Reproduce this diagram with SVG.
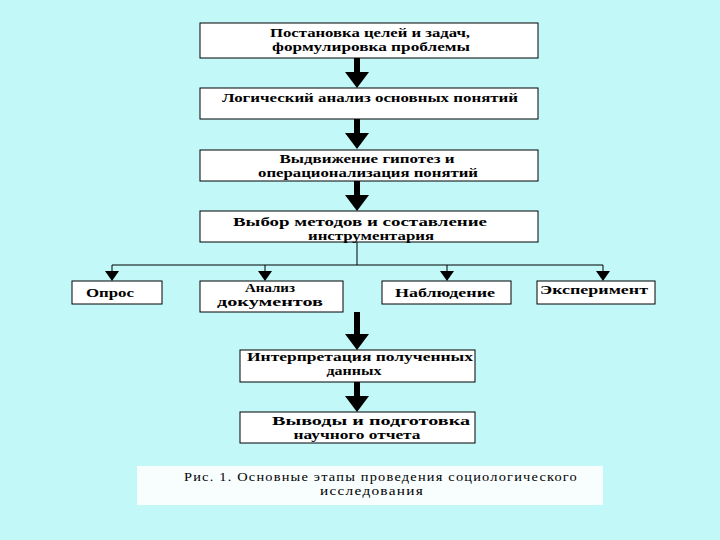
<svg xmlns="http://www.w3.org/2000/svg" width="720" height="540" viewBox="0 0 720 540">
<defs>
<style>
.box{fill:#ffffff;stroke:#000;stroke-width:1}
.t{font-family:"Liberation Serif","Times New Roman",serif;font-weight:bold;font-size:13px;fill:#000;text-anchor:middle}
.c{font-family:"Liberation Serif","Times New Roman",serif;font-size:12px;fill:#000;text-anchor:middle;letter-spacing:1px}
.thin{stroke:#000;stroke-width:1;fill:none}
.head{fill:#000}
</style>
<path id="big" d="M-3,0 L3,0 L3,14 L12,14 L0,30 L-12,14 L-3,14 Z" fill="#000"/>
<path id="sm" d="M-7,-10 L7,-10 L0,0 Z" fill="#000"/>
</defs>
<rect width="720" height="540" fill="#c2f8f8"/>
<g id="connectors">
<use href="#big" x="357" y="58"/>
<use href="#big" x="357" y="119"/>
<use href="#big" x="357" y="181"/>
<line class="thin" x1="357" y1="242" x2="357" y2="265"/>
<line class="thin" x1="112" y1="265" x2="603" y2="265"/>
<line class="thin" x1="112" y1="265" x2="112" y2="272"/>
<line class="thin" x1="265" y1="265" x2="265" y2="272"/>
<line class="thin" x1="447" y1="265" x2="447" y2="272"/>
<line class="thin" x1="603" y1="265" x2="603" y2="272"/>
<use href="#sm" x="112" y="281"/>
<use href="#sm" x="265" y="281"/>
<use href="#sm" x="447" y="281"/>
<use href="#sm" x="603" y="281"/>
<path d="M-3,0 L3,0 L3,22 L12,22 L0,38 L-12,22 L-3,22 Z" fill="#000" transform="translate(357,312)"/>
<use href="#big" x="357" y="382"/>
</g>
<g id="n1">
<rect class="box" x="200" y="23" width="338" height="35"/>
<text class="t" x="370" y="37" textLength="200" lengthAdjust="spacingAndGlyphs">Постановка целей и задач,</text>
<text class="t" x="371" y="51" textLength="198" lengthAdjust="spacingAndGlyphs">формулировка проблемы</text>
</g>
<g id="n2">
<rect class="box" x="200" y="88" width="338" height="31"/>
<text class="t" x="370" y="102" textLength="296" lengthAdjust="spacingAndGlyphs">Логический анализ основных понятий</text>
</g>
<g id="n3">
<rect class="box" x="200" y="150" width="338" height="31"/>
<text class="t" x="367" y="163" textLength="175" lengthAdjust="spacingAndGlyphs">Выдвижение гипотез и</text>
<text class="t" x="368" y="177" textLength="220" lengthAdjust="spacingAndGlyphs">операционализация понятий</text>
</g>
<g id="n4">
<rect class="box" x="200" y="211" width="338" height="31"/>
<text class="t" x="360" y="226" textLength="254" lengthAdjust="spacingAndGlyphs">Выбор методов и составление</text>
<text class="t" x="371" y="240" textLength="126" lengthAdjust="spacingAndGlyphs">инструментария</text>
</g>
<g id="n5">
<rect class="box" x="72" y="281" width="90" height="23"/>
<text class="t" x="110" y="297" textLength="48" lengthAdjust="spacingAndGlyphs">Опрос</text>
</g>
<g id="n6">
<rect class="box" x="200" y="281" width="143" height="31"/>
<text class="t" x="270" y="292" textLength="50" lengthAdjust="spacingAndGlyphs">Анализ</text>
<text class="t" x="270" y="306" textLength="106" lengthAdjust="spacingAndGlyphs">документов</text>
</g>
<g id="n7">
<rect class="box" x="382" y="281" width="129" height="23"/>
<text class="t" x="445" y="297" textLength="100" lengthAdjust="spacingAndGlyphs">Наблюдение</text>
</g>
<g id="n8">
<rect class="box" x="537" y="281" width="118" height="23"/>
<text class="t" x="594" y="294" textLength="108" lengthAdjust="spacingAndGlyphs">Эксперимент</text>
</g>
<g id="n9">
<rect class="box" x="240" y="350" width="235" height="32"/>
<text class="t" x="360" y="361" textLength="226" lengthAdjust="spacingAndGlyphs">Интерпретация полученных</text>
<text class="t" x="354" y="375" textLength="55" lengthAdjust="spacingAndGlyphs">данных</text>
</g>
<g id="n10">
<rect class="box" x="240" y="412" width="235" height="31"/>
<text class="t" x="371" y="425" textLength="198" lengthAdjust="spacingAndGlyphs">Выводы и подготовка</text>
<text class="t" x="357" y="439" textLength="127" lengthAdjust="spacingAndGlyphs">научного отчета</text>
</g>
<g id="caption">
<rect x="137" y="466" width="466" height="39" fill="#f8fdfd"/>
<text class="c" x="381" y="481" textLength="394" lengthAdjust="spacingAndGlyphs">Рис. 1. Основные этапы проведения социологического</text>
<text class="c" x="372" y="495" textLength="104" lengthAdjust="spacingAndGlyphs">исследования</text>
</g>
</svg>
